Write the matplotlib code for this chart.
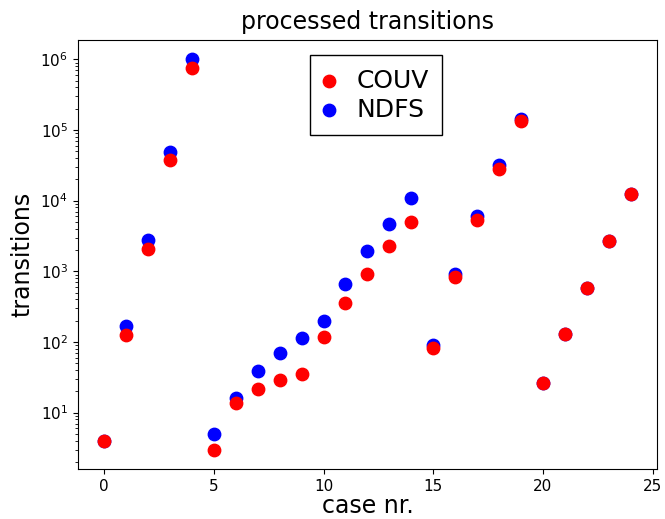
import matplotlib
matplotlib.use('Agg')
import matplotlib.pyplot as plt
import numpy as np

cases = np.arange(25)
couv = [4, 125, 2040, 37800, 747000, 3, 13.8, 21.8, 29, 35,
        117, 354, 908, 2250, 5060, 82, 823, 5400, 28200, 134000,
        26.5, 130, 577, 2650, 12600]
ndfs = [4, 168, 2740, 49000, 1000000, 5, 16, 39, 70, 114,
        198, 656, 1914, 4600, 11000, 91, 908, 5960, 32200, 143000,
        26.5, 130, 577, 2650, 12600]

plt.rcParams['font.family'] = ['DejaVu Sans']

fig = plt.figure(figsize=(6.65, 5.19), dpi=100)
ax = fig.add_axes([0.117, 0.0963, 0.871, 0.827])

ax.scatter(cases, couv, s=80, color='red', label='COUV', zorder=3)
ax.scatter(cases, ndfs, s=80, color='blue', label='NDFS', zorder=2)
ax.set_yscale('log')

ax.set_title('processed transitions', fontsize=17, pad=8)
ax.set_xlabel('case nr.', fontsize=17, labelpad=0)
ax.set_ylabel('transitions', fontsize=17)
ax.tick_params(labelsize=11)
ax.set_xticks([0, 5, 10, 15, 20, 25])

leg = ax.legend(loc='upper center', bbox_to_anchor=(0.515, 0.965), borderaxespad=0,
                fontsize=18, fancybox=False, framealpha=1, edgecolor='black',
                handlelength=0.4, handletextpad=0.9, borderpad=0.55,
                labelspacing=0.2)

fig.savefig('out.png', dpi=100)
